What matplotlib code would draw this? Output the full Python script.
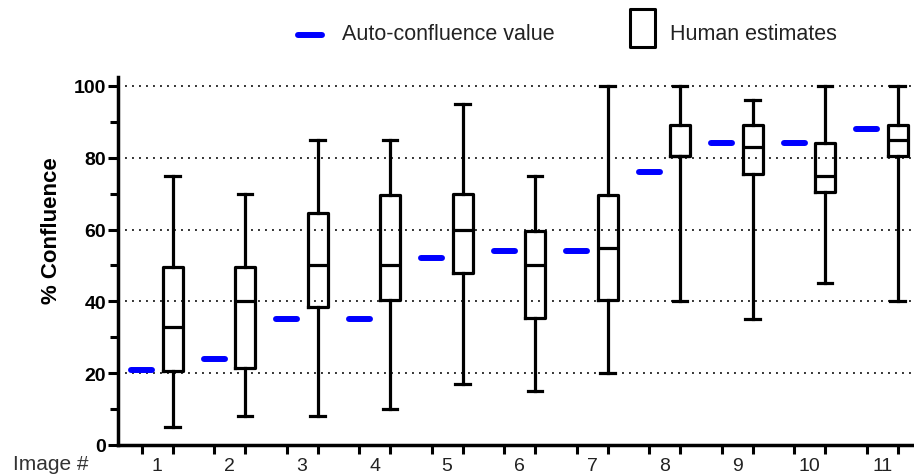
import matplotlib
matplotlib.use('Agg')
import matplotlib.pyplot as plt
from matplotlib.lines import Line2D
from matplotlib.patches import Rectangle
import numpy as np

# Data
image_labels = ['1', '2', '3', '4', '5', '6', '7', '8', '9', '10', '11']
auto_confluence = [21, 24, 35, 35, 52, 54, 54, 76, 84, 84, 88]
human_low = [5, 8, 8, 10, 17, 15, 20, 40, 35, 45, 40]
human_q1 = [20.5, 21.5, 38.5, 40.5, 48, 35.5, 40.5, 80.5, 75.5, 70.5, 80.5]
human_median = [33, 40, 50, 50, 60, 50, 55, 80.5, 83, 75, 85]
human_q3 = [49.5, 49.5, 64.5, 69.5, 70, 59.5, 69.5, 89, 89, 84, 89]
human_high = [75, 70, 85, 85, 95, 75, 100, 100, 96, 100, 100]

plt.rcParams['font.family'] = ['Liberation Sans', 'DejaVu Sans']

W, H = 914, 477
fig = plt.figure(figsize=(W / 100, H / 100), dpi=100)
ax = fig.add_axes([118 / W, 31 / H, (W - 118) / W, (446 - 78) / H])

centers = np.arange(1, len(image_labels) + 1)
offset = 0.215
dash_x = centers - offset
box_x = centers + offset

# human estimates (box and whiskers, min to max)
stats = []
for lo, a, m, b, hi in zip(human_low, human_q1, human_median, human_q3, human_high):
    stats.append({'whislo': lo, 'q1': a, 'med': m, 'q3': b, 'whishi': hi})
lw = 2.3
ax.bxp(stats, positions=box_x, widths=0.28, capwidths=0.2, showfliers=False,
       manage_ticks=False,
       boxprops=dict(color='black', linewidth=lw),
       whiskerprops=dict(color='black', linewidth=lw),
       capprops=dict(color='black', linewidth=lw),
       medianprops=dict(color='black', linewidth=lw))

# auto-confluence dashes
half = 0.145
ax.hlines(auto_confluence, dash_x - half, dash_x + half, colors='#0000ff',
          linewidth=4.3, capstyle='round', zorder=3)

ax.set_xlim(0.46, 0.46 + (W - 118) / 72.5)
ax.set_ylim(0, 102.5)

ax.set_yticks([0, 20, 40, 60, 80, 100])
ax.set_yticks([10, 30, 50, 70, 90], minor=True)
ax.set_xticks(np.sort(np.concatenate([dash_x, box_x])))
ax.set_xticklabels([])
ax.set_xticks(centers, minor=True)
ax.set_xticklabels(image_labels, minor=True, fontsize=14, color='#222222')

for lbl in ax.get_yticklabels():
    lbl.set_fontweight('bold')
    lbl.set_fontsize(14)

ax.tick_params(axis='y', which='major', length=7.5, width=2.2, pad=1)
ax.tick_params(axis='y', which='minor', length=5.5, width=2.2)
ax.tick_params(axis='x', which='major', length=6.5, width=2.2)
ax.tick_params(axis='x', which='minor', length=0, pad=9)

for s in ['top', 'right']:
    ax.spines[s].set_visible(False)
for s in ['left', 'bottom']:
    ax.spines[s].set_linewidth(2.5)

for v in [20, 40, 60, 80, 100]:
    ax.axhline(v, color='#333333', linewidth=1.4, linestyle=(0, (1, 2.6)), zorder=0)

fig.text(52 / W, (H - 231) / H, '% Confluence', rotation=90, fontsize=16,
         fontweight='bold', ha='center', va='center')
fig.text(13 / W, (H - 465) / H, 'Image #', fontsize=15, color='#333333',
         ha='left', va='center')

# legend
fig.add_artist(Line2D([298 / W, 322 / W], [(H - 35.5) / H] * 2, color='#0000ff',
                      linewidth=4.3, solid_capstyle='round'))
fig.text(342 / W, (H - 35) / H, 'Auto-confluence value', fontsize=15.5,
         color='#222222', ha='left', va='center')
fig.add_artist(Rectangle((630 / W, (H - 48) / H), 25 / W, 38 / H, fill=False,
                         edgecolor='black', linewidth=2.2, joinstyle='round'))
fig.text(670 / W, (H - 34) / H, 'Human estimates', fontsize=15.5,
         color='#222222', ha='left', va='center')

fig.savefig('out.png', dpi=100)
